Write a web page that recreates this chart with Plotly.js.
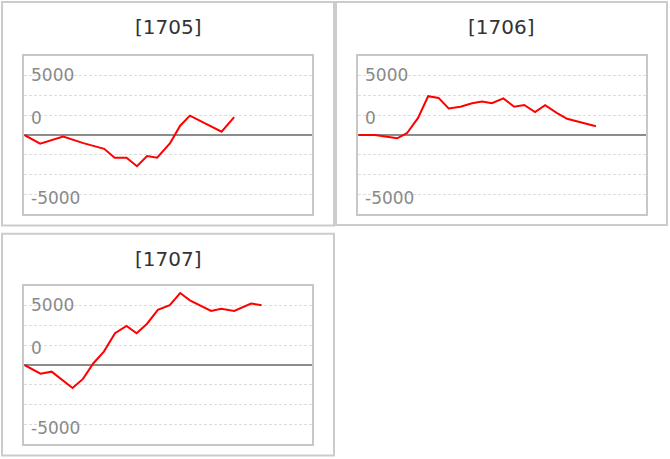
<!DOCTYPE html>
<html>
<head>
<meta charset="utf-8">
<script src="https://cdn.plot.ly/plotly-3.0.1.min.js"></script>
<style>html,body{margin:0;padding:0;background:#fff;}#chart{width:670px;height:459px;}</style>
</head>
<body>
<div id="chart"></div>
<script>
// Panel titles
const titles = ["[1705]", "[1706]", "[1707]"];
// Y tick labels shown inside each plot
const yLabels = ["5000", "0", "-5000"];

// Series: game count (x) and difference (y) for each machine
const x1705 = [0, 440, 1080, 1640, 2220, 2510, 2840, 3130, 3410, 3690, 4050, 4330, 4600, 5480, 5830];
const y1705 = [0, -725, -125, -680, -1160, -1910, -1910, -2620, -1770, -1910, -680, 780, 1630, 280, 1500];

const x1706 = [0, 460, 1080, 1350, 1660, 1940, 2230, 2510, 2840, 3160, 3440, 3710, 4030, 4330, 4610, 4910, 5190, 5510, 5800, 6600];
const y1706 = [0, 0, -280, 150, 1440, 3260, 3120, 2230, 2380, 2670, 2820, 2670, 3080, 2380, 2520, 1920, 2510, 1860, 1360, 730];

const x1707 = [0, 450, 760, 1340, 1630, 1920, 2210, 2520, 2840, 3120, 3410, 3710, 4040, 4330, 4600, 4880, 5190, 5470, 5830, 6300, 6590];
const y1707 = [0, -725, -560, -1930, -1170, 150, 1130, 2670, 3280, 2670, 3470, 4630, 5030, 6050, 5440, 5030, 4550, 4720, 4550, 5170, 5030];

const W = 670, H = 459;
const px = v => v / W;
const py = v => 1 - v / H;

const panels = [
  {xs: x1705, ys: y1705, pl: 24.3, pr: 312.3, pt: 55.7, pb: 214.3, bl: 2, br: 334, bt: 2, bb: 225.5},
  {xs: x1706, ys: y1706, pl: 358.3, pr: 646.3, pt: 55.7, pb: 214.3, bl: 336, br: 667, bt: 2, bb: 225},
  {xs: x1707, ys: y1707, pl: 24.3, pr: 312.3, pt: 285.7, pb: 444.3, bl: 2, br: 334, bt: 233.7, bb: 455.5}
];

const traces = [];
const layout = {
  width: W, height: H,
  margin: {l: 0, r: 0, t: 0, b: 0},
  paper_bgcolor: '#fff', plot_bgcolor: '#fff',
  showlegend: false,
  font: {family: 'DejaVu Sans, Verdana, sans-serif'},
  shapes: [], annotations: []
};

panels.forEach((p, i) => {
  const n = i === 0 ? '' : String(i + 1);
  traces.push({
    x: p.xs, y: p.ys, type: 'scatter', mode: 'lines',
    xaxis: 'x' + n, yaxis: 'y' + n,
    line: {color: '#ff0000', width: 2},
    hoverinfo: 'skip'
  });
  layout['xaxis' + n] = {
    domain: [px(p.pl), px(p.pr)], range: [0, 8000], anchor: 'y' + n,
    showgrid: false, zeroline: false, showticklabels: false, ticks: '',
    showline: true, mirror: true, linecolor: '#c8c8c8', linewidth: 2, fixedrange: true
  };
  layout['yaxis' + n] = {
    domain: [py(p.pb), py(p.pt)], range: [-6667, 6667], anchor: 'x' + n,
    tick0: 0, dtick: 5000 / 3, showgrid: true, gridcolor: '#dcdcdc', griddash: '3px,2px', gridwidth: 1,
    zeroline: true, zerolinecolor: '#8c8c8c', zerolinewidth: 2,
    showticklabels: false, ticks: '',
    showline: true, mirror: true, linecolor: '#c8c8c8', linewidth: 2, fixedrange: true
  };
  layout.shapes.push({
    type: 'rect', xref: 'paper', yref: 'paper',
    x0: px(p.bl), x1: px(p.br), y0: py(p.bb), y1: py(p.bt),
    line: {color: '#cccccc', width: 2}, layer: 'below'
  });
  layout.annotations.push({
    text: titles[i], xref: 'paper', yref: 'paper',
    x: px((p.bl + p.br) / 2), y: py(p.bt + 25), xanchor: 'center', yanchor: 'middle',
    showarrow: false, font: {size: 20, color: '#333333', family: 'DejaVu Sans, Verdana, sans-serif'}
  });
  const offs = [19.3, 62.6, 142];
  yLabels.forEach((t, k) => {
    layout.annotations.push({
      text: t, xref: 'paper', yref: 'paper',
      x: px(p.pl + 4.8), y: py(p.pt + offs[k]), xanchor: 'left', yanchor: 'middle',
      showarrow: false, font: {size: 17, color: '#8a8a8a', family: 'DejaVu Sans, Verdana, sans-serif'}
    });
  });
});

Plotly.newPlot('chart', traces, layout, {staticPlot: true, displayModeBar: false});
</script>
</body>
</html>
